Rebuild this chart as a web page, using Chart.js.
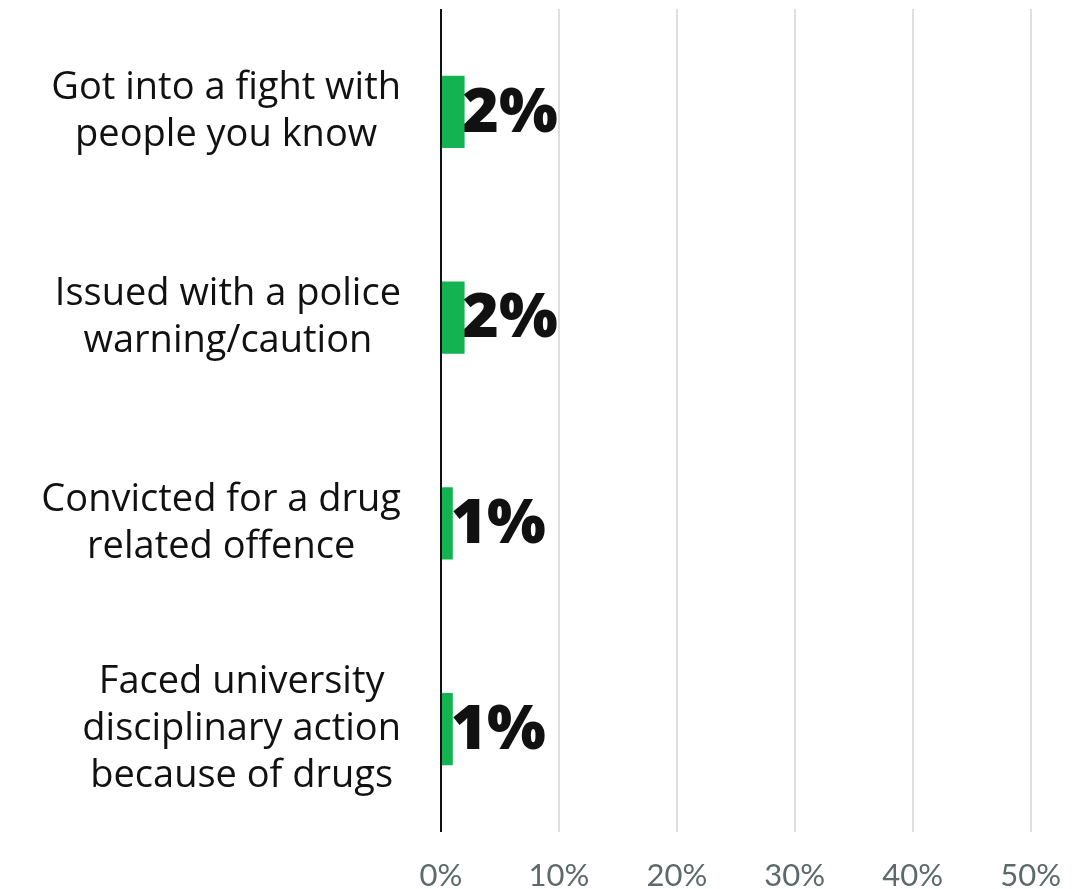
<!DOCTYPE html>
<html>
<head>
<meta charset="utf-8">
<script src="https://cdn.jsdelivr.net/npm/chart.js@4.4.1/dist/chart.umd.min.js"></script>
<style>
  html, body { margin: 0; padding: 0; background: #ffffff; }
  #wrap { width: 1086px; height: 889px; }
</style>
</head>
<body>
<div id="wrap"><canvas id="c" width="1086" height="889"></canvas></div>
<script>
const categories = [
  ["Got into a fight with", "people you know"],
  ["Issued with a police", "warning/caution"],
  ["Convicted for a drug", "related offence"],
  ["Faced university", "disciplinary action", "because of drugs"]
];
const values = [2, 2, 1, 1];
const valueLabels = ["2%", "2%", "1%", "1%"];
const xTickMin = 0;
const xTickMax = 50;
const xTickStep = 10;

const labelFont = "38px 'Open Sans', Lato, sans-serif";
const valueFont = "800 62px 'Open Sans', Lato, sans-serif";

const yLabelPlugin = {
  id: 'yLabels',
  afterDraw(chart) {
    const ctx = chart.ctx;
    const yScale = chart.scales.y;
    const lineH = 47;
    const rightEdge = 401;
    ctx.save();
    ctx.font = labelFont;
    ctx.fillStyle = '#111111';
    ctx.textAlign = 'center';
    ctx.textBaseline = 'middle';
    categories.forEach((lines, i) => {
      const y = yScale.getPixelForTick(i);
      let maxW = 0;
      lines.forEach(l => { maxW = Math.max(maxW, ctx.measureText(l).width); });
      const cx = rightEdge - maxW / 2;
      const startY = y - (lines.length - 1) * lineH / 2;
      lines.forEach((l, k) => ctx.fillText(l, cx, startY + k * lineH));
    });
    ctx.restore();
  }
};

const valueLabelPlugin = {
  id: 'valueLabels',
  afterDatasetsDraw(chart) {
    const ctx = chart.ctx;
    const meta = chart.getDatasetMeta(0);
    ctx.save();
    ctx.font = valueFont;
    ctx.fillStyle = '#111111';
    ctx.textAlign = 'left';
    ctx.textBaseline = 'middle';
    meta.data.forEach((bar, i) => {
      ctx.fillText(valueLabels[i], bar.x - 2, bar.y + 2);
    });
    ctx.restore();
  }
};

new Chart(document.getElementById('c'), {
  type: 'bar',
  data: {
    labels: categories,
    datasets: [{
      data: values,
      backgroundColor: '#13b352',
      borderWidth: 0,
      barPercentage: 0.35,
      categoryPercentage: 1
    }]
  },
  options: {
    indexAxis: 'y',
    responsive: false,
    animation: false,
    layout: { padding: { top: 9, right: 55, bottom: 0, left: 0 } },
    plugins: {
      legend: { display: false },
      tooltip: { enabled: false }
    },
    scales: {
      x: {
        min: xTickMin,
        max: xTickMax,
        ticks: {
          stepSize: xTickStep,
          padding: 25,
          color: '#5d6a6a',
          font: { family: "Lato, 'Open Sans', sans-serif", size: 31 },
          callback: v => v + '%',
          maxRotation: 0
        },
        grid: {
          drawTicks: false,
          color: c => c.index === 0 ? '#111111' : '#dedede',
          lineWidth: 2
        },
        border: { display: false },
        afterFit: s => { s.height = 57; }
      },
      y: {
        ticks: { display: false },
        grid: { display: false },
        border: { display: false },
        afterFit: s => { s.width = 441; }
      }
    }
  },
  plugins: [yLabelPlugin, valueLabelPlugin]
});
</script>
</body>
</html>
